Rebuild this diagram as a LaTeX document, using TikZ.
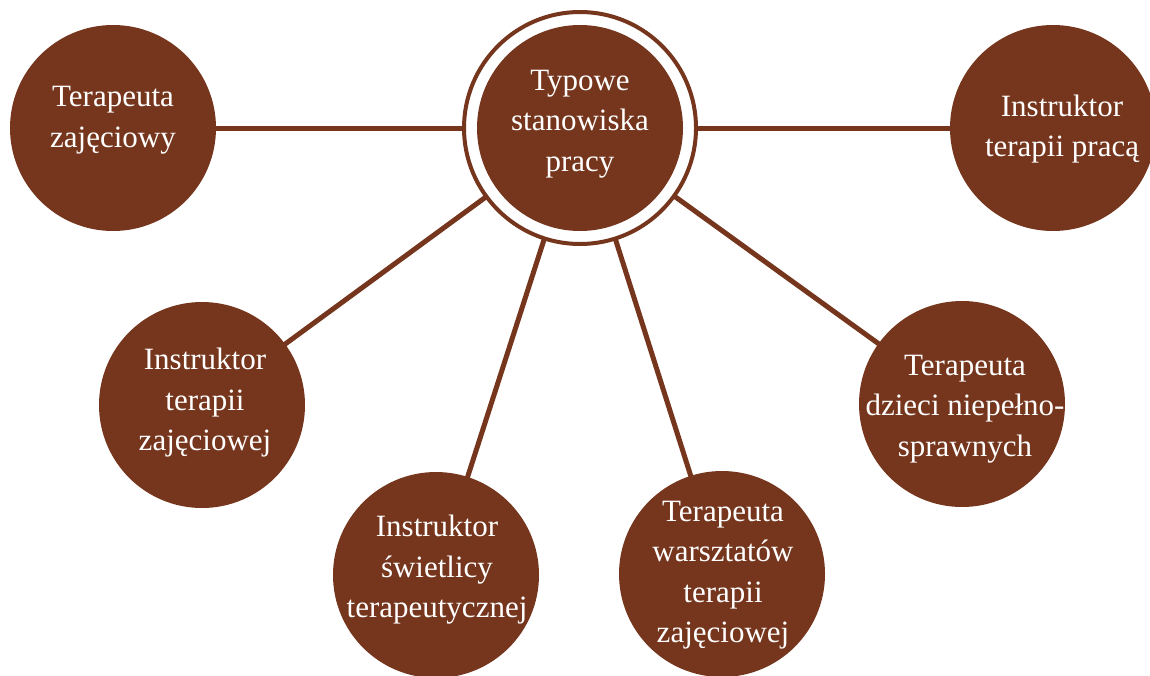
\documentclass[tikz,border=0pt]{standalone}
\usepackage{fontspec}
\setmainfont{Liberation Serif}
\usetikzlibrary{backgrounds}
\definecolor{brn}{RGB}{117,54,29}
\begin{document}
\begin{tikzpicture}[x=1pt,y=-1pt,
  disc/.style={circle, fill=brn, minimum size=206pt, inner sep=0pt},
  ringc/.style={circle, draw=brn, fill=white, line width=4pt, minimum size=232pt, inner sep=0pt},
  lbl/.style={text=white, align=center, inner sep=0pt, font=\fontsize{31}{40.5}\selectfont},
  link/.style={draw=brn, line width=5pt}]
\useasboundingbox (0,0) rectangle (1150,675);
\node[ringc] (ring) at (580,128) {};
\node[disc] (hub) at (580,128) {};
\node[disc] (tz) at (113,128) {};
\node[disc] (itp) at (1053,128) {};
\node[disc] (itz) at (202,405) {};
\node[disc] (isw) at (436,575) {};
\node[disc] (twz) at (722,574) {};
\node[disc] (tdn) at (962,404) {};
\begin{scope}[on background layer]
\draw[link] (tz.center) -- (itp.center);
\draw[link] (hub.center) -- (itz.center);
\draw[link] (hub.center) -- (isw.center);
\draw[link] (hub.center) -- (twz.center);
\draw[link] (hub.center) -- (tdn.center);
\end{scope}
\node[lbl] (thub) at (580,124) {Typowe\\stanowiska\\pracy};
\node[lbl] (ttz) at (113,120) {Terapeuta\\zajęciowy};
\node[lbl] (titp) at (1062,129) {Instruktor\\terapii pracą};
\node[lbl] (titz) at (205,403) {Instruktor\\terapii\\zajęciowej};
\node[lbl] (tisw) at (437,570) {Instruktor\\świetlicy\\terapeutycznej};
\node[lbl] (ttwz) at (723,575) {Terapeuta\\warsztatów\\terapii\\zajęciowej};
\node[lbl] (ttdn) at (965,409) {Terapeuta\\dzieci niepełno-\\sprawnych};
\end{tikzpicture}
\end{document}
